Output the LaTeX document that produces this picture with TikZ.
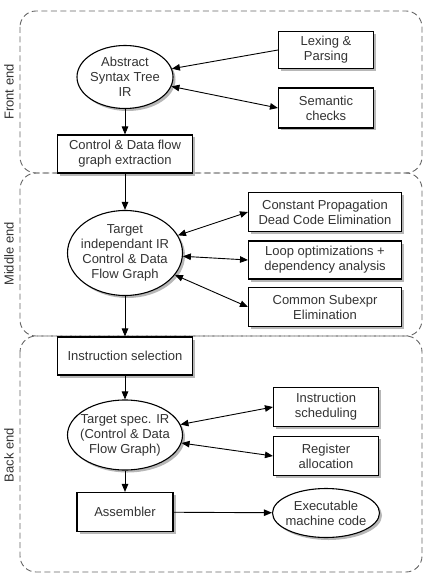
\documentclass[tikz,border=0pt]{standalone}
\usepackage{fontspec}
\setmainfont{Liberation Sans}
\usetikzlibrary{arrows.meta, shapes.geometric, shadows}
\usepackage{xcolor}

\begin{document}
\begin{tikzpicture}[x=1pt,y=-1pt,
    font=\fontsize{13}{15}\selectfont,
    shd/.style={drop shadow={shadow xshift=2.5pt,shadow yshift=-2.5pt,fill=black!40,opacity=.7}},
    stage/.style={draw,line width=1.1pt,fill=white,shd,align=center,text=black!80,inner sep=2pt},
    ir/.style={ellipse,draw,line width=1.1pt,fill=white,shd,align=center,text=black!80,inner sep=-12pt},
    grp/.style={draw=black!60,line width=0.9pt,dash pattern=on 6pt off 3.5pt,rounded corners=16pt},
    side/.style={rotate=90,text=black!80},
    arr/.style={-{Triangle[length=8pt,width=6.5pt]},line width=0.9pt},
    biarr/.style={{Triangle[length=8pt,width=6.5pt]}-{Triangle[length=8pt,width=6.5pt]},line width=0.9pt}]
    \useasboundingbox (0,0) rectangle (427,580);
    % Phase boxes
    \draw[grp] (20,11) rectangle (422,173);
    \draw[grp] (20,173) rectangle (422,336);
    \draw[grp] (20,336) rectangle (422,572);
    \node[side] (fe) at (9,92) {Front end};
    \node[side] (me) at (9,254) {Middle end};
    \node[side] (be) at (9,455) {Back end};
    % Front end
    \node[ir,minimum width=96pt,minimum height=63pt] (ast) at (125,77) {Abstract\\Syntax Tree\\IR};
    \node[stage,minimum width=95pt,minimum height=37pt] (lex) at (326,50) {Lexing \&\\Parsing};
    \node[stage,minimum width=95pt,minimum height=40pt] (sem) at (326,108) {Semantic\\checks};
    \node[stage,minimum width=135pt,minimum height=38pt] (cfg) at (125,154) {Control \& Data flow\\graph extraction};
    % Middle end
    \node[ir,minimum width=115pt,minimum height=85pt] (tind) at (125,253) {Target\\independant IR\\Control \& Data\\Flow Graph};
    \node[stage,minimum width=153pt,minimum height=39pt] (cp) at (325,212) {Constant Propagation\\Dead Code Elimination};
    \node[stage,minimum width=153pt,minimum height=38pt] (loop) at (325,260) {Loop optimizations +\\dependency analysis};
    \node[stage,minimum width=153pt,minimum height=39pt] (cse) at (325,307) {Common Subexpr\\Elimination};
    % Back end
    \node[stage,minimum width=135pt,minimum height=38pt] (isel) at (125,356) {Instruction selection};
    \node[ir,minimum width=115pt,minimum height=70pt] (tspec) at (125,435) {Target spec. IR\\(Control \& Data\\Flow Graph)};
    \node[stage,minimum width=105pt,minimum height=39pt] (sched) at (326,407) {Instruction\\scheduling};
    \node[stage,minimum width=105pt,minimum height=39pt] (reg) at (326,456) {Register\\allocation};
    \node[stage,minimum width=96pt,minimum height=39pt] (asm) at (125,512) {Assembler};
    \node[ir,minimum width=107pt,minimum height=49pt] (exe) at (326,513) {Executable\\machine code};
    % Arrows
    \draw[arr] (lex.west) -- (ast);
    \draw[biarr] (ast) -- (sem.west);
    \draw[arr] (ast) -- (cfg);
    \draw[arr] (cfg) -- (tind);
    \draw[biarr] (tind) -- (cp.west);
    \draw[biarr] (tind) -- (loop.west);
    \draw[biarr] (tind) -- (cse.west);
    \draw[arr] (tind) -- (isel);
    \draw[arr] (isel) -- (tspec);
    \draw[biarr] (tspec) -- (sched.west);
    \draw[biarr] (tspec) -- (reg.west);
    \draw[arr] (tspec) -- (asm);
    \draw[arr] (asm) -- (exe);
  \end{tikzpicture}
\end{document}
